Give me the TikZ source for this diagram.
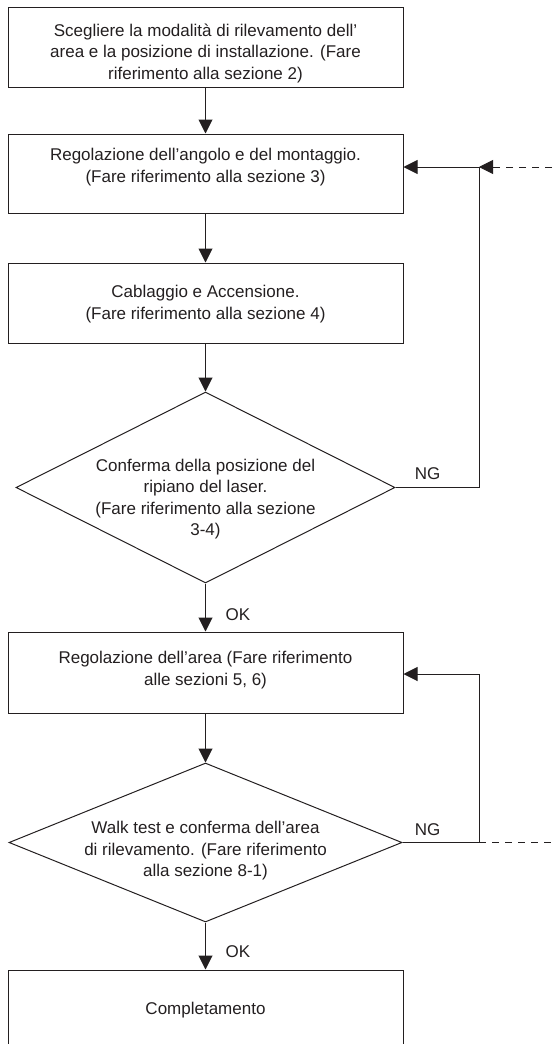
\documentclass[tikz,border=0pt]{standalone}
\usepackage{fontspec}
\setmainfont{Liberation Sans}
\usetikzlibrary{shapes.geometric,arrows.meta}
\definecolor{ink}{HTML}{231F20}
\begin{document}
\begin{tikzpicture}[x=1pt,y=-1pt,
  every node/.style={text=ink, font=\fontsize{17}{21.5}\selectfont},
  box/.style={draw=ink, line width=1pt, rectangle, minimum width=395pt, inner sep=0pt},
  dia/.style={draw=ink, line width=1pt, diamond, inner sep=0pt},
  txt/.style={align=center, inner sep=0pt},
  tip/.style={-{Triangle[length=14pt,width=14pt]}},
  flow/.style={draw=ink, line width=1pt, tip},
  link/.style={draw=ink, line width=1pt},
  dashlink/.style={draw=ink, line width=1pt, dash pattern=on 7pt off 6pt}]
\useasboundingbox (0,0) rectangle (552,1044);
\clip (0,0) rectangle (552,1044);
% boxes
\node[box, minimum height=80pt] (b1) at (205.5,47) {};
\node[txt] (b1t) at (205.5,53) {Scegliere la modalità di rilevamento dell’\\area e la posizione di installazione. (Fare\\riferimento alla sezione 2)};
\node[box, minimum height=79pt] (b2) at (205.5,173.5) {};
\node[txt] (b2t) at (205.5,167) {Regolazione dell’angolo e del montaggio.\\(Fare riferimento alla sezione 3)};
\node[box, minimum height=80pt] (b3) at (205.5,303) {};
\node[txt] (b3t) at (205.5,304) {Cablaggio e Accensione.\\(Fare riferimento alla sezione 4)};
\node[dia, minimum width=379pt, minimum height=191pt] (d1) at (205.5,487.5) {};
\node[txt] (d1t) at (205.5,499) {Conferma della posizione del\\ripiano del laser.\\(Fare riferimento alla sezione\\3-4)};
\node[box, minimum height=81pt] (b4) at (205.5,672.5) {};
\node[txt] (b4t) at (205.5,670) {Regolazione dell’area (Fare riferimento\\alle sezioni 5, 6)};
\node[dia, minimum width=393pt, minimum height=159pt] (d2) at (205.5,842.5) {};
\node[txt] (d2t) at (205.5,851) {Walk test e conferma dell’area\\di rilevamento. (Fare riferimento\\alla sezione 8-1)};
\node[box, minimum height=80pt] (b5) at (205.5,1010) {};
\node[txt] (b5t) at (205.5,1010) {Completamento};
% labels
\node[inner sep=0pt] (ok1) at (238,615) {OK};
\node[inner sep=0pt] (ok2) at (238,952) {OK};
\node[inner sep=0pt] (ng1) at (427.5,474) {NG};
\node[inner sep=0pt] (ng2) at (427.5,830) {NG};
% main flow
\draw[flow] (b1.south) -- (b2.north);
\draw[flow] (b2.south) -- (b3.north);
\draw[flow] (b3.south) -- (d1.north);
\draw[flow] (d1.south) -- (b4.north);
\draw[flow] (b4.south) -- (d2.north);
\draw[flow] (d2.south) -- (b5.north);
% feedback loops
\coordinate (j1) at (479,167);
\coordinate (e1) at (552,167);
\coordinate (j2) at (479,674);
\coordinate (j3) at (479,842.5);
\coordinate (e2) at (552,842.5);
\draw[link] (d1.east) -| (j1);
\draw[flow] (j1) -- (b2.east |- j1);
\draw[dashlink, tip] (e1) -- (j1);
\draw[link] (d2.east) -- (j3) -- (j2);
\draw[flow] (j2) -- (b4.east |- j2);
\draw[dashlink] (j3) -- (e2);
\end{tikzpicture}
\end{document}
